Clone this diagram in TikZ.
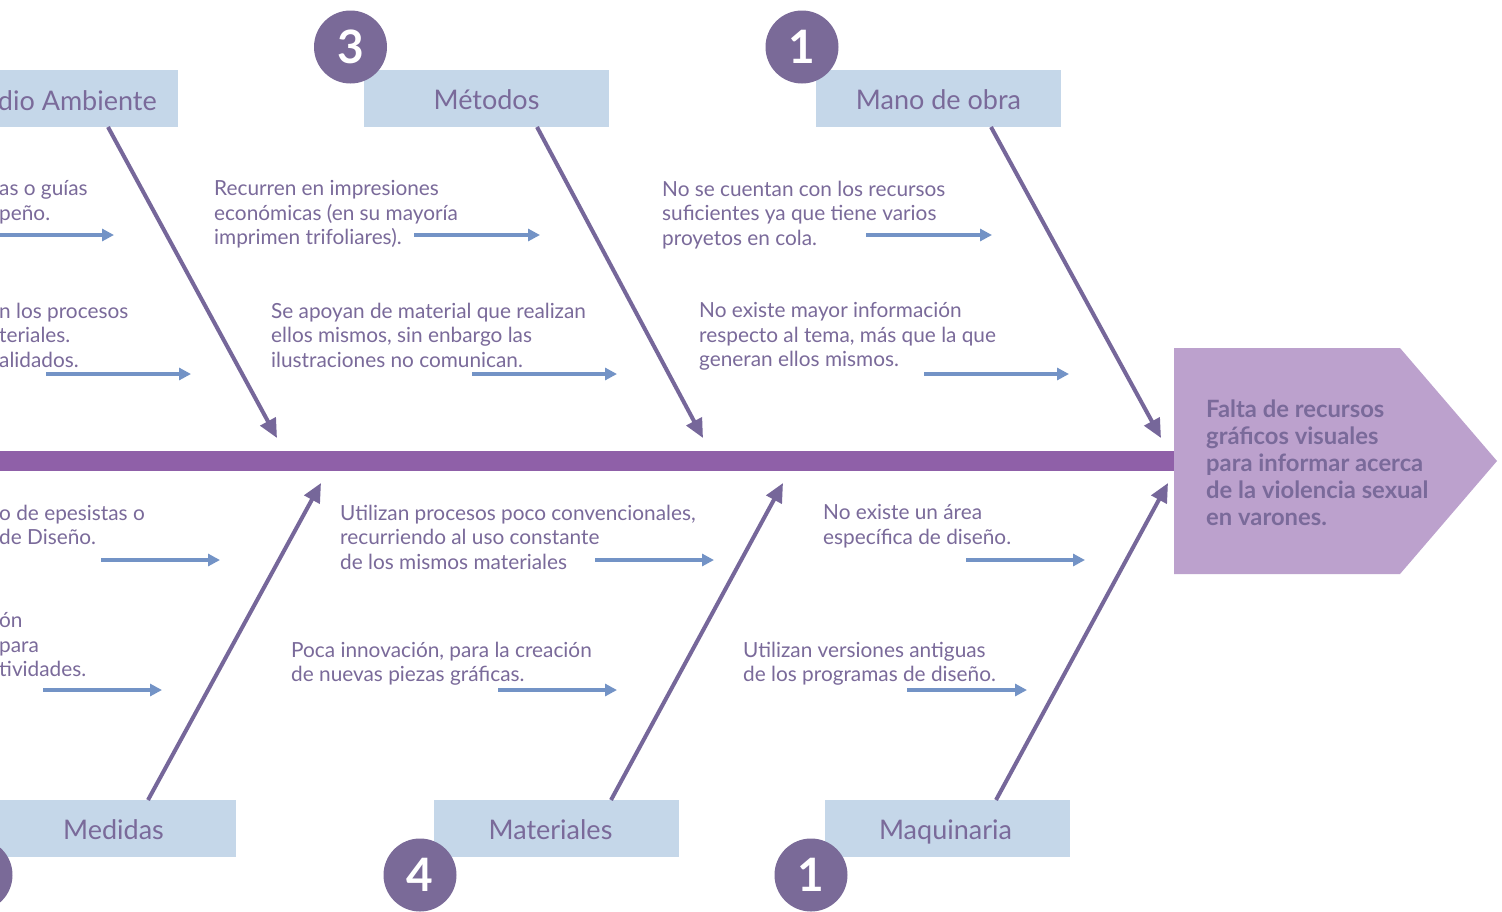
\documentclass[tikz,border=0pt]{standalone}
\usepackage{fontspec}
\setmainfont{Lato}
\usetikzlibrary{arrows.meta}
\definecolor{txt}{HTML}{7A6A9A}
\definecolor{boxc}{HTML}{C5D7E9}
\definecolor{circ}{HTML}{7A6A98}
\definecolor{bone}{HTML}{76679A}
\definecolor{sarrow}{HTML}{7393C6}
\definecolor{spinec}{HTML}{8F60A8}
\definecolor{headc}{HTML}{BCA1CD}
\begin{document}
\begin{tikzpicture}[x=1pt,y=-1pt,
 catbox/.style={fill=boxc, minimum width=245pt, minimum height=57pt, inner sep=0pt, text=txt, font=\fontsize{27}{30}\selectfont, text height=23pt, text depth=2pt},
 numc/.style={circle, fill=circ, minimum size=73pt, inner sep=0pt, text=white, font=\bfseries\fontsize{46}{46}\selectfont},
 cause/.style={anchor=north west, inner sep=0pt, align=left, text=txt, font=\fontsize{20.8}{24.5}\selectfont},
 bonearrow/.style={draw=bone, line width=4pt, -{Triangle[length=19pt,width=17pt]}},
 smallarrow/.style={draw=sarrow, line width=3.5pt, -{Triangle[length=12pt,width=12pt]}},
 headtext/.style={anchor=north west, inner sep=0pt, align=left, text=txt, font=\bfseries\fontsize{23.8}{27}\selectfont}]
\useasboundingbox (0,0) rectangle (1502,911);
\clip (0,0) rectangle (1502,911);
\fill[white] (0,0) rectangle (1502,911);

% spine and head
\coordinate (sp0) at (-5,461);
\fill[headc] (1174,348) -- (1400,348) -- (1497,461) -- (1400,574) -- (1174,574) -- cycle;
\node[inner sep=0pt] (head) at (1174,461) {};
\draw[spinec, line width=20pt] (sp0) -- (head.center);
\node[headtext] (effect) at (1206,400) {Falta de recursos\\gráficos visuales\\para informar acerca\\de la violencia sexual\\en varones.};

% category boxes
\node[catbox, anchor=north east, minimum width=250pt] (amb) at (178,70) {};
\node[inner sep=0pt, anchor=base east, text=txt, font=\fontsize{27}{30}\selectfont] (ambt) at (157,110) {dio Ambiente};
\node[catbox] (met) at (486.5,98.5) {Métodos};
\node[catbox] (mano) at (938.5,98.5) {Mano de obra};
\node[catbox] (med) at (113.5,828.5) {Medidas};
\node[catbox] (mat) at (556.5,828.5) {\hspace*{-12pt}Materiales};
\node[catbox] (maq) at (947.5,828.5) {\hspace*{-4pt}Maquinaria};

% number circles
\node[numc] (c3) at (350.5,47) {3};
\node[numc] (c1a) at (802,47) {1};
\node[numc] (c4) at (420,875) {4};
\node[numc] (c1b) at (811,875) {1};
\node[numc] (cx) at (-24,875) {};

% bones
\coordinate (t1s) at (108,127); \coordinate (t1e) at (277,438);
\coordinate (t2s) at (537,127); \coordinate (t2e) at (703,438);
\coordinate (t3s) at (991,127); \coordinate (t3e) at (1161,438);
\coordinate (b1s) at (148,800); \coordinate (b1e) at (321,483);
\coordinate (b2s) at (611,800); \coordinate (b2e) at (783,483);
\coordinate (b3s) at (996,800); \coordinate (b3e) at (1168,483);
\draw[bonearrow] (t1s) -- (t1e);
\draw[bonearrow] (t2s) -- (t2e);
\draw[bonearrow] (t3s) -- (t3e);
\draw[bonearrow] (b1s) -- (b1e);
\draw[bonearrow] (b2s) -- (b2e);
\draw[bonearrow] (b3s) -- (b3e);

% cause texts
\node[cause] (ta1) at (-1,180.5) {as o guías\\peño.};
\node[cause] (ta2) at (214,180.5) {Recurren en impresiones\\económicas (en su mayoría\\imprimen trifoliares).};
\node[cause] (ta3) at (662,180.5) {No se cuentan con los recursos\\suficientes ya que tiene varios\\proyetos en cola.};
\node[cause] (tb1) at (-1,302.5) {n los procesos\\teriales.\\alidados.};
\node[cause] (tb2) at (271,302.5) {Se apoyan de material que realizan\\ellos mismos, sin enbargo las\\ilustraciones no comunican.};
\node[cause] (tb3) at (699,302.5) {No existe mayor información\\respecto al tema, más que la que\\generan ellos mismos.};
\node[cause] (bc1) at (-1,504.5) {o de epesistas o\\de Diseño.};
\node[cause] (bc2) at (340,504.5) {Utilizan procesos poco convencionales,\\recurriendo al uso constante\\de los mismos materiales};
\node[cause] (bc3) at (823,504.5) {No existe un área\\específica de diseño.};
\node[cause] (bd1) at (-1,612.5) {ón\\para\\tividades.};
\node[cause] (bd2) at (291,641.5) {Poca innovación, para la creación\\de nuevas piezas gráficas.};
\node[cause] (bd3) at (743,641.5) {Utilizan versiones antiguas\\de los programas de diseño.};

% small arrows
\coordinate (sa1s) at (-5,235);  \coordinate (sa1e) at (114,235);
\coordinate (sa2s) at (414,235); \coordinate (sa2e) at (540,235);
\coordinate (sa3s) at (866,235); \coordinate (sa3e) at (992,235);
\coordinate (sb1s) at (46,374);  \coordinate (sb1e) at (191,374);
\coordinate (sb2s) at (472,374); \coordinate (sb2e) at (617,374);
\coordinate (sb3s) at (924,374); \coordinate (sb3e) at (1069,374);
\coordinate (sc1s) at (101,560); \coordinate (sc1e) at (220,560);
\coordinate (sc2s) at (595,560); \coordinate (sc2e) at (714,560);
\coordinate (sc3s) at (966,560); \coordinate (sc3e) at (1085,560);
\coordinate (sd1s) at (43,690);  \coordinate (sd1e) at (162,690);
\coordinate (sd2s) at (498,690); \coordinate (sd2e) at (617,690);
\coordinate (sd3s) at (907,690); \coordinate (sd3e) at (1027,690);
\foreach \p in {sa1,sa2,sa3,sb1,sb2,sb3,sc1,sc2,sc3,sd1,sd2,sd3}
  \draw[smallarrow] (\p s) -- (\p e);
\end{tikzpicture}
\end{document}
